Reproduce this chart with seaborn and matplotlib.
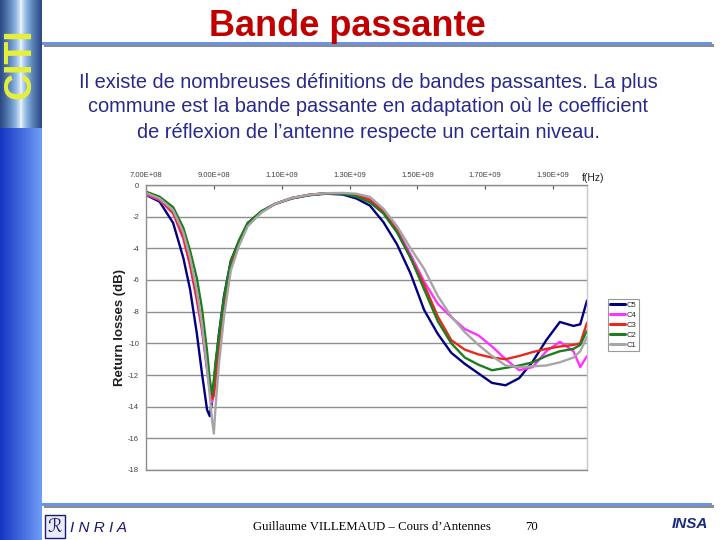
# %%
import numpy as np
import pandas as pd
import matplotlib
import matplotlib.pyplot as plt
from matplotlib.colors import LinearSegmentedColormap
from matplotlib.patches import Rectangle
import seaborn as sns

sns.set_theme(style="white")
matplotlib.rcParams["font.family"] = ["Liberation Sans", "DejaVu Sans"]

# %% values (frequency in MHz, return losses in dB)
freq_mhz = [700, 740, 780, 810, 830, 850, 865, 880, 888, 895, 900, 905, 915, 930,
            950, 975, 1000, 1040, 1080, 1130, 1180, 1230, 1280, 1320, 1360, 1400,
            1440, 1480, 1520, 1560, 1600, 1640, 1680, 1720, 1760, 1800, 1840, 1880,
            1920, 1960, 1980, 2000]
c5 = [-0.63, -1.05, -2.4, -4.6, -6.6, -9.4, -11.9, -14.2, -14.6, -13.6, -12.6, -11.4,
      -9.4, -7.0, -4.8, -3.5, -2.4, -1.7, -1.2, -0.85, -0.65, -0.55, -0.6, -0.85, -1.3,
      -2.35, -3.75, -5.6, -7.9, -9.4, -10.6, -11.3, -11.9, -12.5, -12.65, -12.2, -11.15,
      -9.8, -8.65, -8.9, -8.8, -7.3]
c4 = [-0.6, -0.95, -1.8, -3.4, -5.1, -7.3, -9.2, -11.7, -13.0, -13.7, -13.2, -12.3,
      -10.2, -7.7, -5.2, -3.7, -2.5, -1.7, -1.2, -0.82, -0.62, -0.52, -0.52, -0.62, -0.9,
      -1.65, -2.8, -4.4, -6.1, -7.5, -8.35, -9.1, -9.5, -10.2, -11.0, -11.7, -11.5,
      -10.5, -9.9, -10.5, -11.5, -10.8]
c3 = [-0.55, -0.9, -1.75, -3.3, -5.0, -7.2, -9.0, -11.5, -12.8, -13.5, -13.3, -12.2,
      -10.0, -7.5, -5.0, -3.6, -2.45, -1.7, -1.2, -0.82, -0.62, -0.52, -0.52, -0.65, -0.95,
      -1.7, -2.9, -4.6, -6.3, -8.3, -9.8, -10.4, -10.7, -10.9, -11.0, -10.8, -10.55,
      -10.35, -10.2, -10.1, -10.0, -8.7]
c2 = [-0.42, -0.74, -1.4, -2.7, -4.15, -5.9, -7.8, -10.5, -12.3, -13.2, -12.3, -11.2,
      -9.5, -7.1, -4.8, -3.45, -2.4, -1.65, -1.2, -0.83, -0.63, -0.53, -0.55, -0.74, -1.1,
      -1.8, -3.0, -4.6, -6.6, -8.6, -10.0, -10.9, -11.35, -11.7, -11.55, -11.4, -11.2,
      -10.8, -10.5, -10.35, -10.1, -9.2]
c1 = [-0.5, -0.85, -1.6, -3.0, -4.6, -6.7, -8.8, -11.6, -13.3, -14.9, -15.7, -14.0,
      -11.3, -8.3, -5.4, -3.8, -2.6, -1.75, -1.2, -0.82, -0.62, -0.52, -0.5, -0.55, -0.75,
      -1.5, -2.6, -4.0, -5.3, -7.0, -8.3, -9.3, -10.1, -10.8, -11.4, -11.5, -11.45,
      -11.4, -11.2, -10.9, -10.5, -9.6]

curve_names = ["C5", "C4", "C3", "C2", "C1"]
curve_colors = ["#000080", "#ff33ff", "#e8281e", "#1e7d1e", "#a6a6a6"]
xtick_hz = [7.0e8, 9.0e8, 1.1e9, 1.3e9, 1.5e9, 1.7e9, 1.9e9]
ytick_db = [0, -2, -4, -6, -8, -10, -12, -14, -16, -18]

title = "Bande passante"
body = ("Il existe de nombreuses définitions de bandes passantes. La plus\n"
        "commune est la bande passante en adaptation où le coefficient\n"
        "de réflexion de l’antenne respecte un certain niveau.")
footer = "Guillaume VILLEMAUD – Cours d’Antennes"
page = "70"

# %%
df = pd.DataFrame({"freq": np.array(freq_mhz) * 1e6,
                   "C5": c5, "C4": c4, "C3": c3, "C2": c2, "C1": c1})
df = df.melt(id_vars="freq", var_name="curve", value_name="rl")

W, H = 720, 540
fig = plt.figure(figsize=(7.2, 5.4), dpi=100)
fig.patch.set_facecolor("white")

def fx(px):
    return px / W

def fy(py):
    return 1 - py / H

# %% slide decoration: left band, logo, rules
side = fig.add_axes([0, 0, fx(42), 1])
side.imshow(np.linspace(0, 1, 64)[None, :], aspect="auto",
            cmap=LinearSegmentedColormap.from_list("band", ["#1535c4", "#6f9df5"]),
            extent=[0, 1, 0, 1])
side.axis("off")

logo = fig.add_axes([0, fy(128), fx(42), 128 / H])
beam = 1 - np.abs(np.linspace(-1, 1, 64))[None, :] ** 0.6
logo.imshow(beam, aspect="auto",
            cmap=LinearSegmentedColormap.from_list("logo", ["#2c4a86", "#7aa6d8", "#e8f4ff"]),
            extent=[0, 1, 0, 1])
logo.text(0.5, 0.5, "CITI", rotation=90, ha="center", va="center",
          fontsize=27, fontweight="bold", color="#e4f03a")
logo.axis("off")

for top in (42, 503):
    fig.add_artist(Rectangle((fx(44), fy(top + 5)), fx(670), 3 / H,
                             transform=fig.transFigure, color="#8c8c8c", lw=0))
    fig.add_artist(Rectangle((fx(42), fy(top + 3)), fx(670), 3 / H,
                             transform=fig.transFigure, color="#6a92e6", lw=0))

fig.text(fx(347), fy(27), title, ha="center", va="center", fontsize=26,
         fontweight="bold", color="#c00000")
fig.text(fx(368), fy(107), body, ha="center", va="center", fontsize=14.4,
         color="#2a2a8c", linespacing=1.4)

# %% the chart
ax = fig.add_axes([fx(146), fy(470), fx(441), 285 / H])
sns.lineplot(data=df, x="freq", y="rl", hue="curve", hue_order=curve_names,
             palette=dict(zip(curve_names, curve_colors)), estimator=None,
             lw=1.7, ax=ax)
ax.set_xlim(7.0e8, 2.0e9)
ax.set_ylim(-18, 0)
ax.set_xticks(xtick_hz)
ax.set_xticklabels([f"{v:.2E}" for v in xtick_hz])
ax.set_yticks(ytick_db)
ax.set_yticklabels([str(v) for v in ytick_db])
ax.xaxis.tick_top()
ax.tick_params(axis="x", direction="in", length=3, width=0.8, colors="#555555",
               labelsize=5.5, labelcolor="#404040", pad=4)
ax.tick_params(axis="y", direction="out", length=3, width=0.8, colors="#555555",
               labelsize=5.5, labelcolor="#404040", pad=2)
ax.set_xlabel("")
ax.set_ylabel("")
ax.yaxis.grid(True, color="#8e8e8e", lw=1)
ax.xaxis.grid(False)
for name, sp in ax.spines.items():
    sp.set_visible(True)
    sp.set_linewidth(1)
    sp.set_color("#c8c8c8" if name == "right" else "#8e8e8e")

handles, labels = ax.get_legend_handles_labels()
leg = ax.legend(handles, labels, loc="upper left", bbox_to_anchor=(1.047, 0.6),
                fontsize=5.5, frameon=True, fancybox=False, edgecolor="#808080",
                handlelength=2.0, handletextpad=0.2, labelspacing=0.35,
                borderpad=0.3, borderaxespad=0)
leg.get_frame().set_linewidth(0.8)
for line in leg.get_lines():
    line.set_linewidth(2.2)

fig.text(fx(593), fy(178), "f(Hz)", ha="center", va="center", fontsize=7.5,
         color="#202020")
fig.text(fx(120), fy(327), "Return losses (dB)", rotation=90, ha="center",
         va="center", fontsize=9.5, fontweight="bold", color="#202020")

# %% footer
fig.add_artist(Rectangle((fx(45), fy(538)), fx(20), 23 / H,
                         transform=fig.transFigure, facecolor="#e8ecf8",
                         edgecolor="#1a1a6e", lw=1))
fig.text(fx(55), fy(527), "ℛ", ha="center", va="center", fontsize=13,
         color="#1a1a6e", family=["DejaVu Sans"])
fig.text(fx(70), fy(528), "I N R I A", ha="left", va="center", fontsize=11,
         style="italic", color="#1a1a6e")
fig.text(fx(372), fy(527), footer, ha="center", va="center", fontsize=9.2,
         family=["Liberation Serif", "DejaVu Serif"], color="black")
fig.text(fx(531), fy(527), page, ha="center", va="center", fontsize=9.2,
         family=["Liberation Serif", "DejaVu Serif"], color="black")
fig.text(fx(690), fy(524), "INSA", ha="center", va="center", fontsize=11,
         fontweight="bold", style="italic", color="#1a2a80")

fig.savefig("out.png", dpi=100)
